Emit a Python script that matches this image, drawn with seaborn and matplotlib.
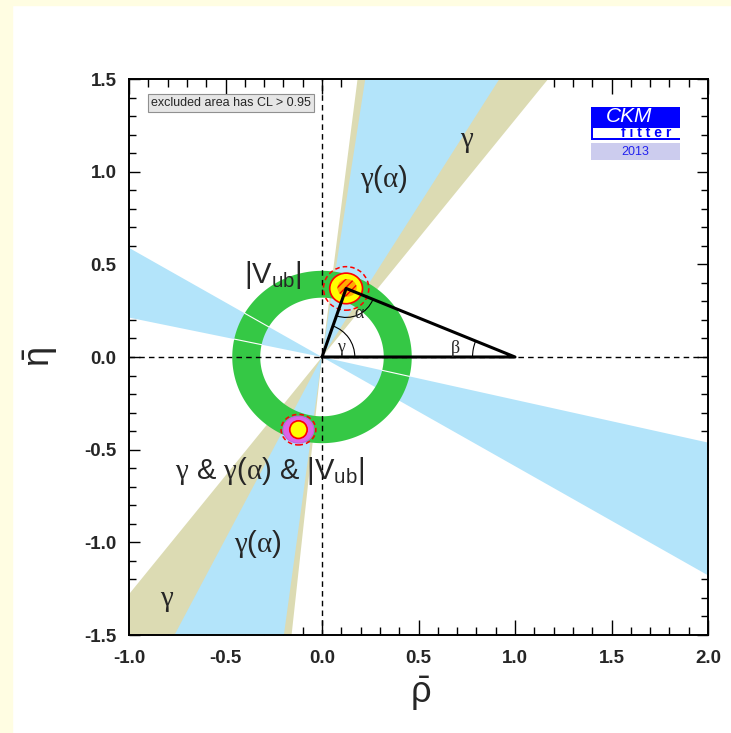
import numpy as np
import pandas as pd
import seaborn as sns
import matplotlib
matplotlib.use("Agg")
import matplotlib.pyplot as plt
from matplotlib.patches import Arc, Ellipse, Rectangle
from matplotlib.ticker import MultipleLocator, FormatStrFormatter

# band edges, degrees from the rho axis, one pair per lobe of the cone at the origin
gamma_lobes = [(52, 83), (232, 264)]
gamma_alpha_lobes = [(58.5, 81.5), (243, 262.5), (149.5, 168), (329.5, 347)]
seam_angles = [149.5, 168, 347]
vub_inner, vub_outer = 0.32, 0.465

# unitarity triangle apex and the mirror solution
apex_rho, apex_eta = 0.125, 0.37
mirror_rho, mirror_eta = -0.122, -0.392
tri_rho = [0.0, 1.0, apex_rho, 0.0]
tri_eta = [0.0, 0.0, apex_eta, 0.0]

x_ticks = [-1.0, -0.5, 0.0, 0.5, 1.0, 1.5, 2.0]
y_ticks = [-1.5, -1.0, -0.5, 0.0, 0.5, 1.0, 1.5]

khaki = "#DCDBB3"
lightblue = "#B3E4FA"
green = "#35C845"

sns.set_style("ticks")
plt.rcParams["font.family"] = ["Liberation Sans", "DejaVu Sans"]
plt.rcParams["mathtext.fontset"] = "custom"
plt.rcParams["mathtext.rm"] = "Liberation Sans"
plt.rcParams["mathtext.it"] = "Liberation Serif"
plt.rcParams["mathtext.bf"] = "Liberation Sans:bold"
plt.rcParams["axes.unicode_minus"] = False

fig = plt.figure(figsize=(7.31, 7.33), dpi=100, facecolor="white")
# pale yellow frame on the left and top
fig.patches.append(Rectangle((0, 0), 12 / 731, 1, transform=fig.transFigure,
                             color="#FFFDE2", zorder=0))
fig.patches.append(Rectangle((0, 1 - 5 / 733), 1, 5 / 733, transform=fig.transFigure,
                             color="#FFFDE2", zorder=0))

ax = fig.add_axes([129 / 731, 1 - 635 / 733, 579 / 731, 556 / 733])
ax.set_facecolor("white")


def wedge(a0, a1, r=6.0):
    t = np.radians(np.linspace(a0, a1, 60))
    return np.r_[0, r * np.cos(t)], np.r_[0, r * np.sin(t)]


for a0, a1 in gamma_lobes:
    xs, ys = wedge(a0, a1)
    ax.fill(xs, ys, color=khaki, lw=0, zorder=1)
for a0, a1 in gamma_alpha_lobes:
    xs, ys = wedge(a0, a1)
    ax.fill(xs, ys, color=lightblue, lw=0, zorder=2)

# |Vub| ring
t = np.linspace(0, 2 * np.pi, 300)
ring_x = np.r_[vub_outer * np.cos(t), vub_inner * np.cos(t[::-1])]
ring_y = np.r_[vub_outer * np.sin(t), vub_inner * np.sin(t[::-1])]
ax.fill(ring_x, ring_y, color=green, lw=0, zorder=3)
for a in seam_angles:
    c, s = np.cos(np.radians(a)), np.sin(np.radians(a))
    ax.plot([vub_inner * c, vub_outer * c], [vub_inner * s, vub_outer * s],
            color="white", lw=0.8, zorder=3.5)

# dashed axes through the origin
ax.axhline(0, color="black", lw=1, ls=(0, (4, 3)), zorder=4)
ax.axvline(0, color="black", lw=1, ls=(0, (4, 3)), zorder=4)

# fit results: apex blob and mirror blob
ax.add_patch(Ellipse((apex_rho, apex_eta), 0.235, 0.235, fill=False, ec="red",
                     lw=1.1, ls=(0, (3, 2)), zorder=5))
ax.add_patch(Ellipse((apex_rho, apex_eta), 0.17, 0.165, fc="#FFFF00", ec="red",
                     lw=1.2, zorder=5))
ax.add_patch(Ellipse((apex_rho + 0.005, apex_eta + 0.003), 0.1, 0.095, fc="#FFAA00",
                     ec="red", hatch="////", lw=0, zorder=5.2))
ax.add_patch(Ellipse((mirror_rho, mirror_eta), 0.18, 0.165, fill=False, ec="red",
                     lw=1.1, ls=(0, (3, 2)), zorder=5))
ax.add_patch(Ellipse((mirror_rho, mirror_eta), 0.16, 0.145, fc="#DC64E6", ec="#C060E0",
                     lw=0.8, zorder=5))
ax.add_patch(Ellipse((mirror_rho, mirror_eta), 0.09, 0.095, fc="#FFFF00", ec="red",
                     lw=1.2, zorder=5.2))

# triangle
sns.lineplot(x=tri_rho, y=tri_eta, sort=False, estimator=None, color="black",
             lw=2.2, ax=ax, zorder=6)

# angle arcs
gam = np.degrees(np.arctan2(apex_eta, apex_rho))
bet = np.degrees(np.arctan2(apex_eta, 1 - apex_rho))
ax.add_patch(Arc((0, 0), 0.34, 0.34 * 193 / 185, theta1=0, theta2=gam, color="black",
                 lw=0.8, zorder=6))
ax.add_patch(Arc((1, 0), 0.44, 0.44 * 193 / 185, theta1=180 - bet, theta2=180,
                 color="black", lw=0.8, zorder=6))
ax.add_patch(Arc((apex_rho, apex_eta), 0.3, 0.3 * 193 / 185, theta1=180 + gam,
                 theta2=360 - bet, color="black", lw=0.8, zorder=6))
small = 13
ax.text(0.1, 0.04, r"$\gamma$", fontsize=small, ha="center", va="center", zorder=7)
ax.text(0.69, 0.045, r"$\beta$", fontsize=small, ha="center", va="center", zorder=7)
ax.text(0.195, 0.235, r"$\alpha$", fontsize=small, ha="center", va="center", zorder=7)

# band labels
big = 21
vub = r"$|\mathrm{V}_{\mathrm{ub}}|$"
ax.text(0.32, 0.96, r"$\gamma(\alpha)$", fontsize=big, ha="center", va="center", zorder=7)
ax.text(0.75, 1.165, r"$\gamma$", fontsize=big, ha="center", va="center", zorder=7)
ax.text(-0.255, 0.445, vub, fontsize=big, ha="center", va="center", zorder=7)
ax.text(-0.27, -0.615, r"$\gamma$ & $\gamma(\alpha)$ & " + vub, fontsize=big,
        ha="center", va="center", zorder=7)
ax.text(-0.33, -1.01, r"$\gamma(\alpha)$", fontsize=big, ha="center", va="center", zorder=7)
ax.text(-0.80, -1.31, r"$\gamma$", fontsize=big, ha="center", va="center", zorder=7)

# CL note
ax.text((151 - 129) / 579, (635 - 103) / 556, "excluded area has CL > 0.95",
        transform=ax.transAxes, fontsize=9, ha="left", va="center", zorder=8,
        bbox=dict(boxstyle="square,pad=0.22", fc="#E6E6E6", ec="#909090", lw=0.8))

# CKMfitter logo


def box(x0, y0, x1, y1, **kw):
    ax.add_patch(Rectangle(((x0 - 129) / 579, (635 - y1) / 556), (x1 - x0) / 579,
                           (y1 - y0) / 556, transform=ax.transAxes, zorder=8, lw=0, **kw))


box(591, 107, 680, 140, color="#0000FF")
box(593, 128, 680, 138, color="white")
box(591, 143, 680, 160, color="#CCCCEE")
ax.text((629 - 129) / 579, (635 - 117) / 556, "CKM", transform=ax.transAxes,
        fontsize=15, style="italic", color="white", ha="center", va="center", zorder=9)
ax.text((646 - 129) / 579, (635 - 133.5) / 556, "f i t t e r", transform=ax.transAxes,
        fontsize=10, weight="bold", color="#0000FF", ha="center", va="center", zorder=9)
ax.text((635 - 129) / 579, (635 - 152) / 556, "2013", transform=ax.transAxes,
        fontsize=9, color="#2222EE", ha="center", va="center", zorder=9)

# axes, ticks, labels
ax.set_xlim(-1.0, 2.0)
ax.set_ylim(-1.5, 1.5)
ax.set_xticks(x_ticks)
ax.set_yticks(y_ticks)
ax.xaxis.set_minor_locator(MultipleLocator(0.1))
ax.yaxis.set_minor_locator(MultipleLocator(0.1))
ax.xaxis.set_major_formatter(FormatStrFormatter("%.1f"))
ax.yaxis.set_major_formatter(FormatStrFormatter("%.1f"))
ax.tick_params(axis="both", which="both", direction="in", top=True, right=True,
               color="black", width=1)
ax.tick_params(axis="x", which="major", length=11, pad=11)
ax.tick_params(axis="x", which="minor", length=6)
ax.tick_params(axis="y", which="major", length=8, pad=9)
ax.tick_params(axis="y", which="minor", length=5)
for lab in ax.get_xticklabels() + ax.get_yticklabels():
    lab.set_fontweight("bold")
    lab.set_fontsize(13.5)
for sp in ax.spines.values():
    sp.set_linewidth(1.4)
    sp.set_color("black")
    sp.set_zorder(10)

ax.text(0.503, -0.106, r"$\bar{\mathrm{\rho}}$", transform=ax.transAxes, fontsize=26,
        ha="center", va="center")
ax.text(-0.152, 0.5, r"$\bar{\mathrm{\eta}}$", transform=ax.transAxes, fontsize=26,
        rotation=90, ha="center", va="center")

fig.savefig("out.png", dpi=100, facecolor=fig.get_facecolor())
